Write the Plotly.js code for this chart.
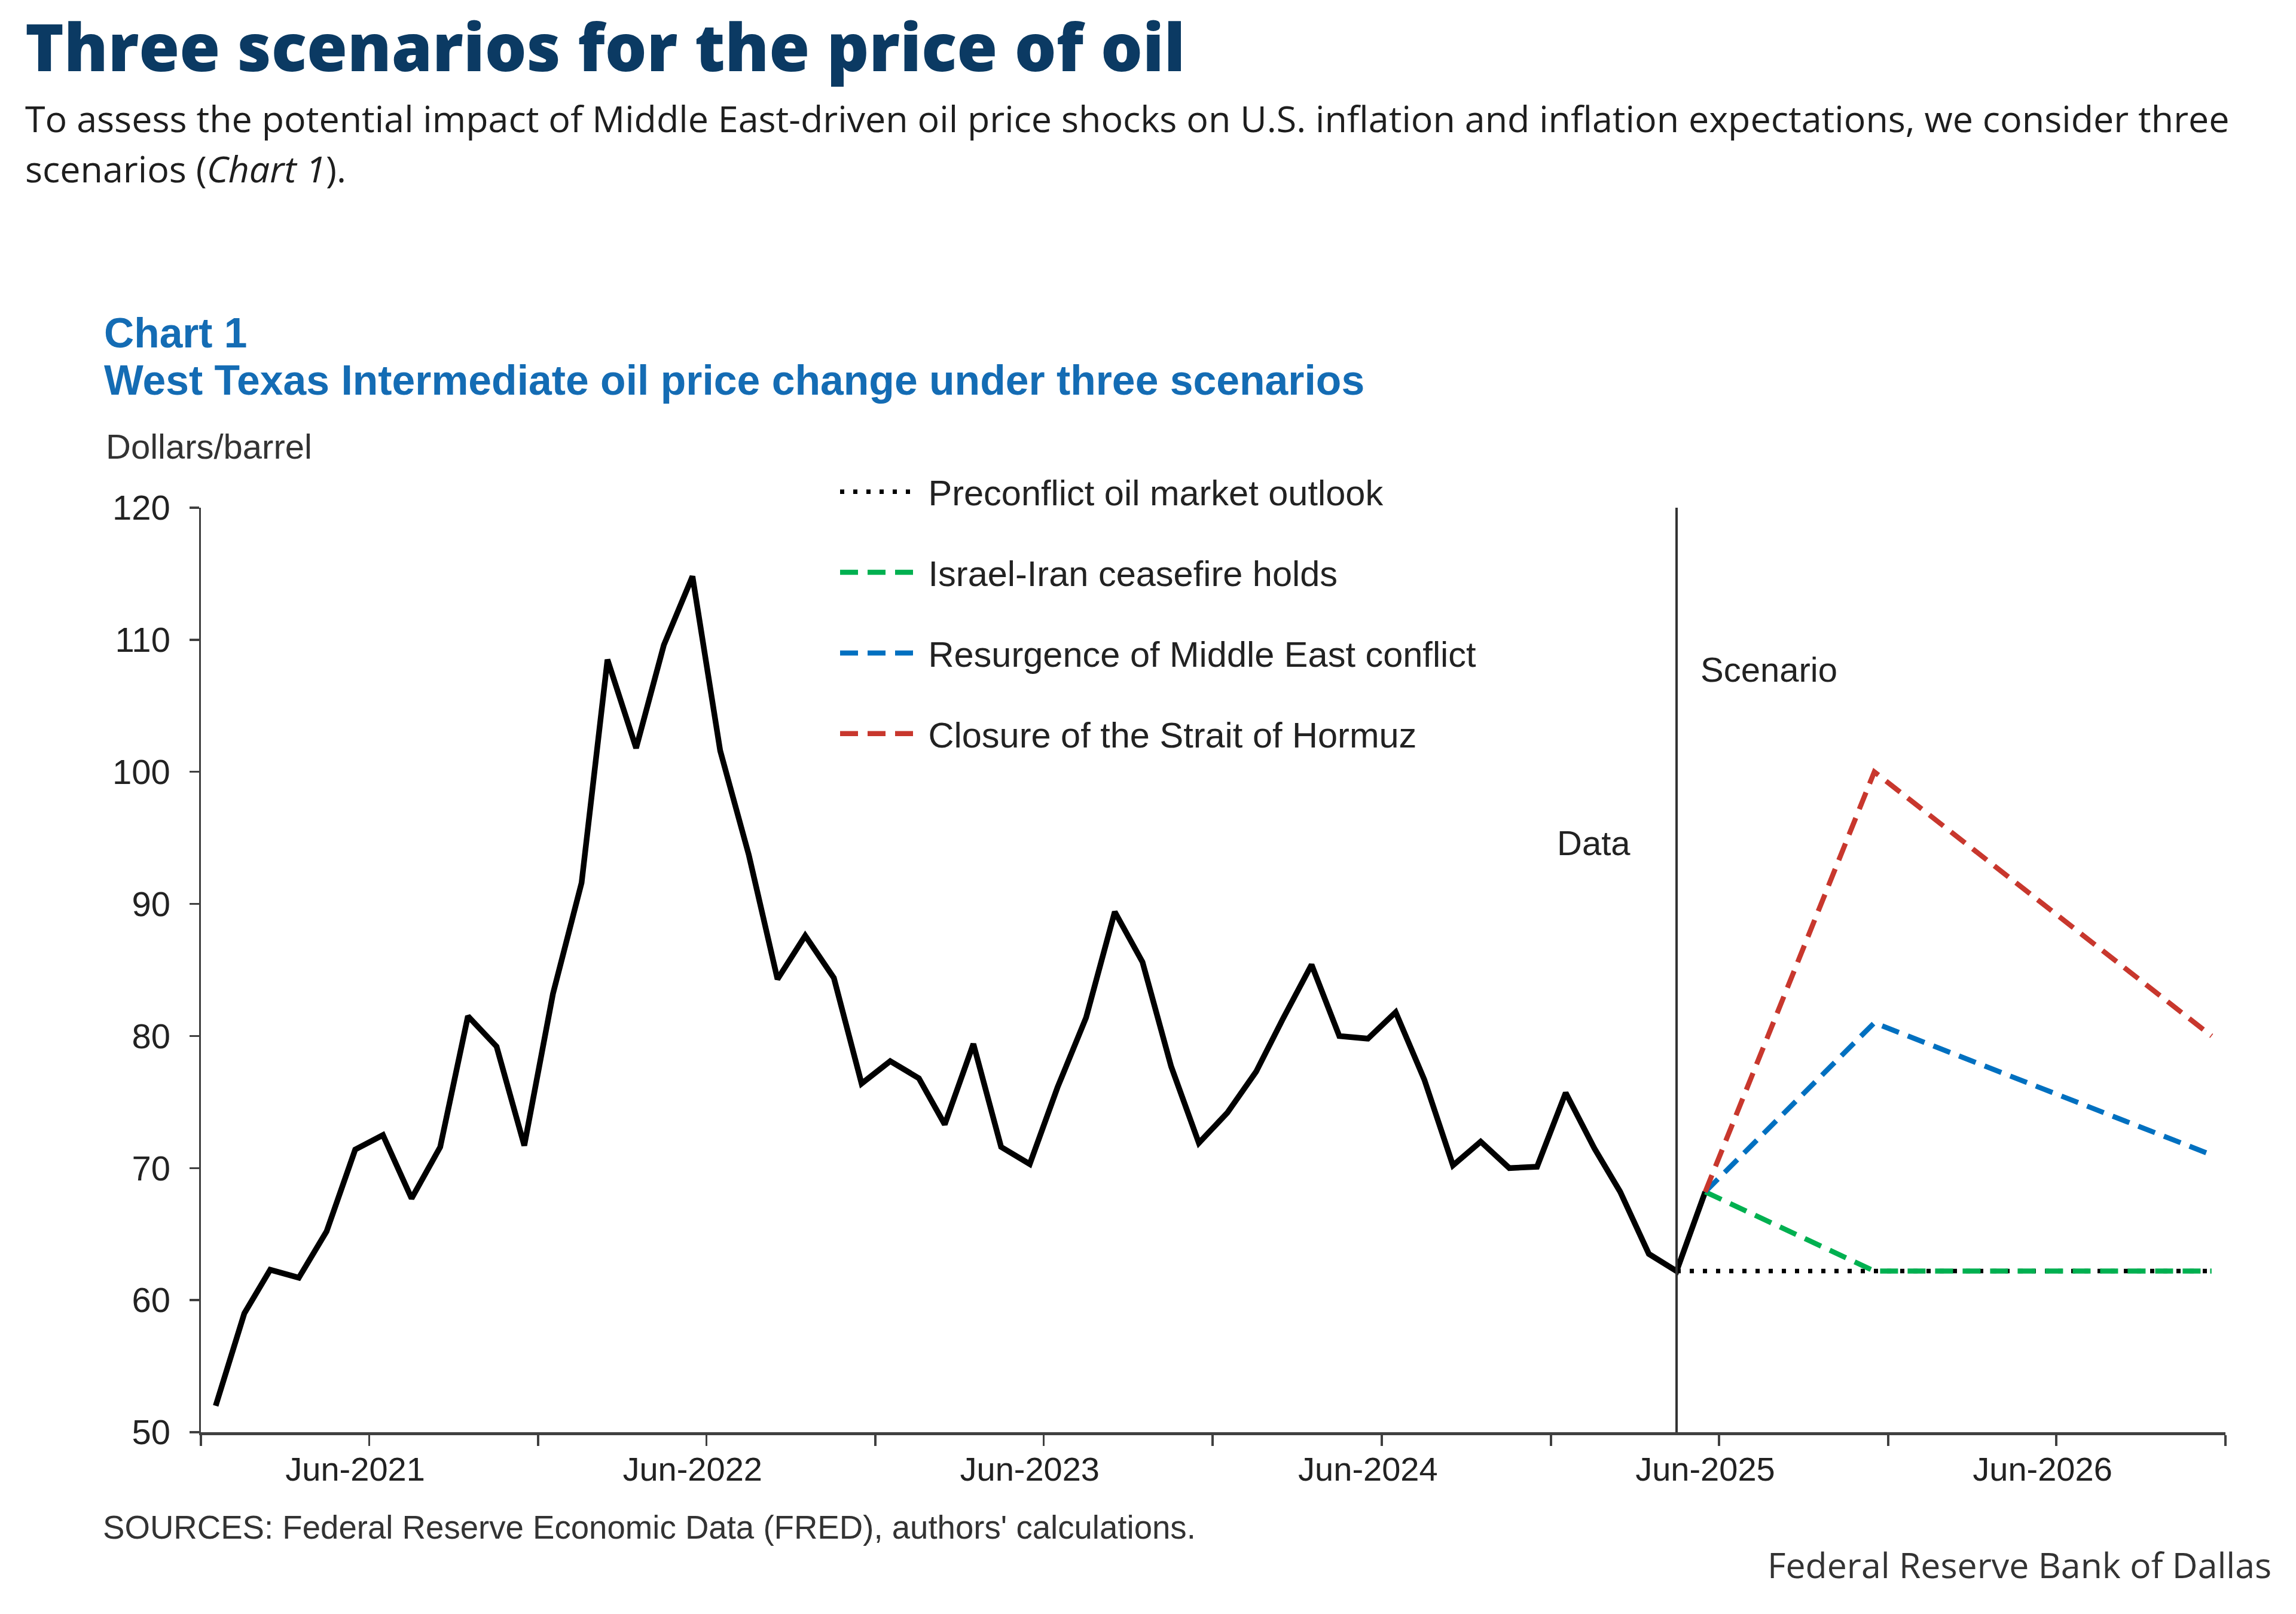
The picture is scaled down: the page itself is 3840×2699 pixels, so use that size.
<!DOCTYPE html>
<html>
<head>
<meta charset="utf-8">
<script src="https://cdn.plot.ly/plotly-3.0.1.min.js"></script>
<style>
  html, body { margin: 0; padding: 0; background: #ffffff; }
  #chart { width: 3840px; height: 2699px; }
</style>
</head>
<body>
<div id="chart"></div>
<script>
// ---- Data (WTI monthly average, dollars per barrel) ----
const months = [
  '2021-01','2021-02','2021-03','2021-04','2021-05','2021-06','2021-07','2021-08','2021-09','2021-10','2021-11','2021-12',
  '2022-01','2022-02','2022-03','2022-04','2022-05','2022-06','2022-07','2022-08','2022-09','2022-10','2022-11','2022-12',
  '2023-01','2023-02','2023-03','2023-04','2023-05','2023-06','2023-07','2023-08','2023-09','2023-10','2023-11','2023-12',
  '2024-01','2024-02','2024-03','2024-04','2024-05','2024-06','2024-07','2024-08','2024-09','2024-10','2024-11','2024-12',
  '2025-01','2025-02','2025-03','2025-04','2025-05','2025-06'
];
const wtiPrice = [
  52.0, 59.0, 62.3, 61.7, 65.2, 71.4, 72.5, 67.7, 71.6, 81.5, 79.2, 71.7,
  83.2, 91.6, 108.5, 101.8, 109.6, 114.8, 101.6, 93.7, 84.3, 87.6, 84.4, 76.4,
  78.1, 76.8, 73.3, 79.4, 71.6, 70.3, 76.1, 81.4, 89.4, 85.6, 77.7, 71.9,
  74.2, 77.3, 81.3, 85.4, 80.0, 79.8, 81.8, 76.7, 70.2, 72.0, 70.0, 70.1,
  75.7, 71.5, 68.2, 63.5, 62.2, 68.2
];

const preconflictMonths = ['2025-05', '2025-12', '2026-12'];
const preconflictPrice  = [62.2, 62.2, 62.2];

const scenarioMonths    = ['2025-06', '2025-12', '2026-12'];
const ceasefirePrice    = [68.2, 62.2, 62.2];
const resurgencePrice   = [68.2, 81.0, 71.0];
const hormuzPrice       = [68.2, 100.0, 80.0];

const seriesNames = [
  'Preconflict oil market outlook',
  'Israel-Iran ceasefire holds',
  'Resurgence of Middle East conflict',
  'Closure of the Strait of Hormuz'
];

const tickDates  = ['2021-06-01','2022-06-01','2023-06-01','2024-06-01','2025-06-01','2026-06-01'];
const tickLabels = ['Jun-2021','Jun-2022','Jun-2023','Jun-2024','Jun-2025','Jun-2026'];

const dividerMonth = '2025-05';

// ---- Styles ----
const ARIAL = 'Liberation Sans, Arial, sans-serif';
const OPEN = 'Open Sans, sans-serif';
const W = 3840, H = 2699;
const M = { l: 336, r: 118, t: 849, b: 304 };
const plotW = W - M.l - M.r, plotH = H - M.t - M.b;
const px = x => (x - M.l) / plotW;          // pixel -> paper x
const py = y => (H - M.b - y) / plotH;      // pixel -> paper y

const dashPat = '30px,16px';
const NB = '\u00a0';

const traces = [
  { x: months, y: wtiPrice, type: 'scatter', mode: 'lines', showlegend: false,
    line: { color: '#000000', width: 9.5 }, hoverinfo: 'skip' },
  { x: preconflictMonths, y: preconflictPrice, name: NB + seriesNames[0], legendgroup: 'a',
    type: 'scatter', mode: 'lines', line: { color: '#000000', width: 7.5, dash: '7px,15px' } },
  { x: scenarioMonths, y: ceasefirePrice, name: NB + seriesNames[1], legendgroup: 'b',
    type: 'scatter', mode: 'lines', line: { color: '#00b050', width: 8.5, dash: dashPat } },
  { x: scenarioMonths, y: resurgencePrice, name: NB + seriesNames[2], legendgroup: 'c',
    type: 'scatter', mode: 'lines', line: { color: '#0070c0', width: 8.5, dash: dashPat } },
  { x: scenarioMonths, y: hormuzPrice, name: NB + seriesNames[3], legendgroup: 'd',
    type: 'scatter', mode: 'lines', line: { color: '#c8372d', width: 8.5, dash: dashPat } }
];

const ann = (text, x, y, size, opts) => Object.assign({
  text: text, xref: 'paper', yref: 'paper', x: px(x), y: py(y),
  xanchor: 'left', yanchor: 'middle', showarrow: false,
  font: { family: ARIAL, size: size, color: '#222222' }
}, opts || {});

const layout = {
  width: W, height: H, autosize: false,
  margin: M,
  paper_bgcolor: '#ffffff', plot_bgcolor: '#ffffff',
  showlegend: true,
  legend: {
    x: px(1400), y: py(777), xanchor: 'left', yanchor: 'top',
    bgcolor: 'rgba(0,0,0,0)', borderwidth: 0,
    font: { family: ARIAL, size: 59.5, color: '#222222' },
    itemwidth: 126, tracegroupgap: 54.5, traceorder: 'grouped'
  },
  xaxis: {
    type: 'date',
    range: ['2020-12-16', '2026-12-16'],
    showgrid: false, zeroline: false,
    showline: true, linecolor: '#404040', linewidth: 5,
    tickmode: 'array', tickvals: tickDates, ticktext: tickLabels,
    ticks: '', ticklabelstandoff: 9,
    tickfont: { family: ARIAL, size: 56, color: '#222222' },
    minor: { ticks: 'outside', ticklen: 18, tickwidth: 3.5, tickcolor: '#404040',
             tick0: '2020-12-16', dtick: 'M6', showgrid: false }
  },
  yaxis: {
    range: [50, 120], dtick: 10, tick0: 50,
    showgrid: false, zeroline: false,
    showline: true, linecolor: '#404040', linewidth: 3.5,
    ticks: 'outside', ticklen: 16, tickwidth: 3.5, tickcolor: '#404040',
    ticklabelstandoff: 20,
    tickfont: { family: ARIAL, size: 58, color: '#222222' }
  },
  shapes: [
    { type: 'line', xref: 'x', yref: 'y', x0: dividerMonth, x1: dividerMonth, y0: 50, y1: 120,
      line: { color: '#333333', width: 4 } }
  ],
  annotations: [
    ann('Three scenarios for the price of oil', 40, 76, 110,
        { font: { family: OPEN, size: 110, color: '#0b3a63', weight: 800 } }),
    ann('To assess the potential impact of Middle East-driven oil price shocks on U.S. inflation and inflation expectations, we consider three',
        40, 198, 61, { font: { family: OPEN, size: 61, color: '#1e1e1e' } }),
    ann('scenarios (<i>Chart 1</i>).', 40, 281, 61, { font: { family: OPEN, size: 61, color: '#1e1e1e' } }),
    ann('<b>Chart 1</b>', 172, 557, 69.5, { font: { family: ARIAL, size: 69.5, color: '#146cb4' } }),
    ann('<b>West Texas Intermediate oil price change under three scenarios</b>', 172, 636, 69.7,
        { font: { family: ARIAL, size: 69.7, color: '#146cb4' } }),
    ann('Dollars/barrel', 175, 746, 58, { font: { family: ARIAL, size: 58, color: '#333333' } }),
    ann('Data', 2729, 1409, 58, { xanchor: 'right' }),
    ann('Scenario', 2842, 1119, 58),
    ann('SOURCES: Federal Reserve Economic Data (FRED), authors\' calculations.', 170, 2554, 54.6,
        { font: { family: ARIAL, size: 54.6, color: '#333333' } }),
    ann('Federal Reserve Bank of Dallas', 3801, 2616, 59,
        { xanchor: 'right', font: { family: OPEN, size: 59, color: '#333333' } })
  ]
};

Plotly.newPlot('chart', traces, layout, { displayModeBar: false, staticPlot: true });
</script>
</body>
</html>
